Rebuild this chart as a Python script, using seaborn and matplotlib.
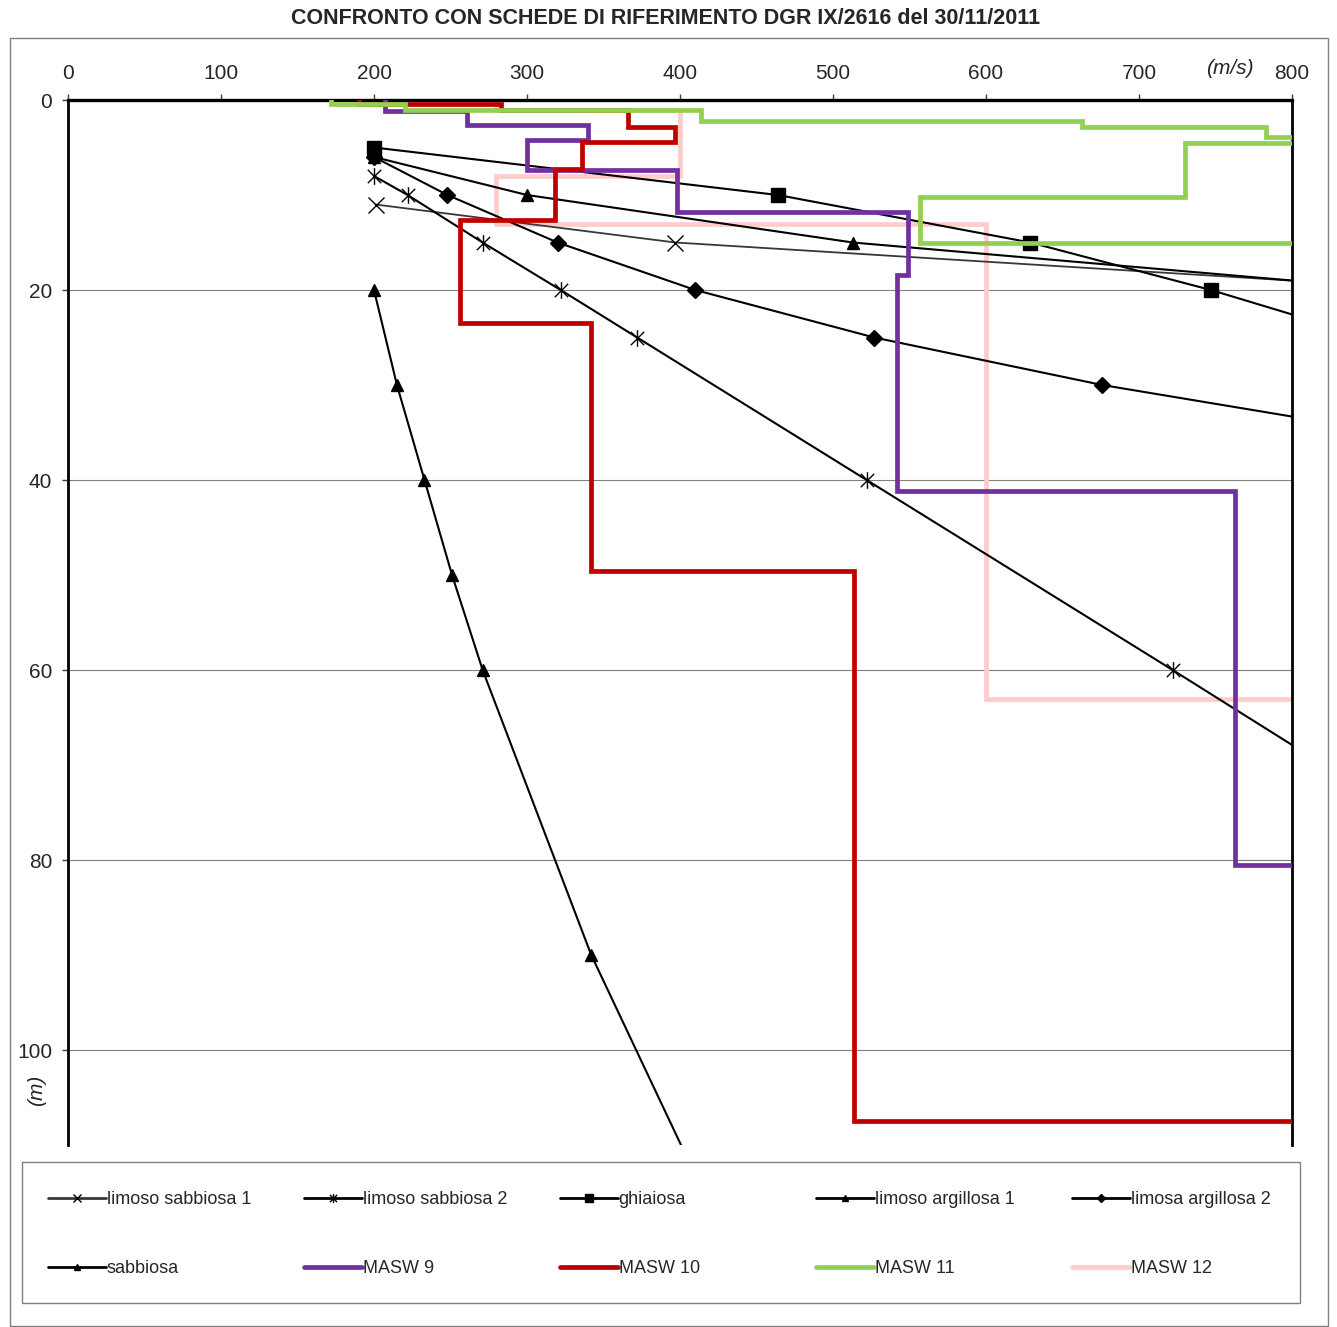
import numpy as np
import pandas as pd
import matplotlib
matplotlib.use("Agg")
import matplotlib.pyplot as plt
import seaborn as sns
from matplotlib.path import Path
from matplotlib.patches import Rectangle

# reference curves: Vs (m/s) and depth (m)
ls1_vs = [201, 397, 1000]
ls1_z = [11, 15, 21]
ls2_vs = [200, 222, 271, 322, 372, 522, 722, 900]
ls2_z = [8, 10, 15, 20, 25, 40, 60, 78]
ghi_vs = [200, 464, 629, 747, 850]
ghi_z = [5, 10, 15, 20, 25]
la1_vs = [200, 300, 513, 900]
la1_z = [6, 10, 15, 20.4]
la2_vs = [200, 248, 320, 410, 527, 676, 900]
la2_z = [6, 10, 15, 20, 25, 30, 36]
sab_vs = [200, 215, 233, 251, 271, 342, 430]
sab_z = [20, 30, 40, 50, 60, 90, 120]

# MASW layered profiles: layer velocity and layer top depth
masw9_vs = [207, 261, 340, 300, 398, 549, 542, 763, 850]
masw9_top = [0, 1.2, 2.65, 4.2, 7.4, 11.8, 18.4, 41.2, 80.5]
masw10_vs = [190, 283, 366, 397, 336, 318, 256, 342, 514, 900]
masw10_top = [0, 0.38, 1.1, 2.85, 4.4, 7.3, 12.6, 23.5, 49.6, 107.5]
masw11_vs = [172, 220, 414, 663, 783, 850, 730, 557, 850]
masw11_top = [0, 0.38, 1.1, 2.2, 2.8, 3.86, 4.56, 10.2, 15.1]
masw12_vs = [280, 400, 280, 600, 900]
masw12_top = [0, 1.05, 8.0, 13.0, 63.0]
bottom_depth = 120

x_ticks = [0, 100, 200, 300, 400, 500, 600, 700, 800]
y_ticks = [0, 20, 40, 60, 80, 100]


def step_profile(vs, tops, bottom):
    x, y = [], []
    bottoms = tops[1:] + [bottom]
    for v, t, b in zip(vs, tops, bottoms):
        x += [v, v]
        y += [t, b]
    return pd.DataFrame({"vs": x, "z": y})


# asterisk marker (x with a vertical bar)
asterisk = Path([(0, -1), (0, 1), (-0.8, -0.8), (0.8, 0.8), (-0.8, 0.8), (0.8, -0.8)],
                [Path.MOVETO, Path.LINETO, Path.MOVETO, Path.LINETO, Path.MOVETO, Path.LINETO])

sns.set_style("white")
plt.rcParams['font.family'] = ['Liberation Sans', 'DejaVu Sans']

fig = plt.figure(figsize=(13.37, 13.27), dpi=100)
ax = fig.add_axes([68 / 1337, 1 - 1145 / 1327, 1224 / 1337, 1045 / 1327])

curves = [
    ("limoso sabbiosa 1", ls1_vs, ls1_z, "#383838", 1.3, "x", 11),
    ("limoso sabbiosa 2", ls2_vs, ls2_z, "black", 1.5, asterisk, 12),
    ("ghiaiosa", ghi_vs, ghi_z, "black", 1.5, "s", 9.5),
    ("limoso argillosa 1", la1_vs, la1_z, "black", 1.5, "^", 9),
    ("limosa argillosa 2", la2_vs, la2_z, "black", 1.5, "D", 8),
    ("sabbiosa", sab_vs, sab_z, "black", 1.5, "^", 9),
]
for name, vs, z, col, lw, mk, ms in curves:
    df = pd.DataFrame({"vs": vs, "z": z})
    sns.lineplot(data=df, x="vs", y="z", ax=ax, sort=False, estimator=None,
                 color=col, lw=lw, marker=mk, markersize=ms,
                 markeredgecolor="black", markerfacecolor="black",
                 markeredgewidth=1.0, label=name, zorder=3)

profiles = [
    ("MASW 9", masw9_vs, masw9_top, "#7030A0", 4),
    ("MASW 10", masw10_vs, masw10_top, "#C00000", 5),
    ("MASW 11", masw11_vs, masw11_top, "#92D050", 6),
    ("MASW 12", masw12_vs, masw12_top, "#FFCCCC", 2),
]
for name, vs, tops, col, zo in profiles:
    df = step_profile(vs, tops, bottom_depth)
    sns.lineplot(data=df, x="vs", y="z", ax=ax, sort=False, estimator=None,
                 color=col, lw=3.4, label=name, zorder=zo,
                 solid_joinstyle="miter", solid_capstyle="round")

ax.set_xlim(0, 800)
ax.set_ylim(110, 0)
ax.set_xticks(x_ticks)
ax.set_yticks(y_ticks)
ax.xaxis.tick_top()
ax.tick_params(axis="x", top=True, bottom=False, length=4, width=1, pad=8,
               labelsize=15, color="#404040")
ax.tick_params(axis="y", left=True, length=4.5, width=1, pad=7,
               labelsize=15, color="#404040")
ax.set_xlabel("")
ax.set_ylabel("")
ax.yaxis.grid(True, color="#808080", lw=0.8)
ax.xaxis.grid(False)
for side in ["left", "top", "right"]:
    ax.spines[side].set_color("black")
    ax.spines[side].set_linewidth(2)
ax.spines["top"].set_linewidth(2.4)
ax.spines["bottom"].set_visible(False)

fig.text(1230 / 1337, 1 - 68 / 1327, "(m/s)", fontsize=15, style="italic",
         ha="center", va="center")
fig.text(37 / 1337, 1 - 1090 / 1327, "(m)", fontsize=15, style="italic",
         rotation=90, ha="center", va="center")
fig.text(666 / 1337, 1 - 19 / 1327,
         "CONFRONTO CON SCHEDE DI RIFERIMENTO DGR IX/2616 del 30/11/2011",
         fontsize=15.5, fontweight="bold", ha="center", va="center")

# outer chart frame and legend frame
fig.patches.append(Rectangle((10 / 1337, 1 - 1326 / 1327), 1318 / 1337, 1288 / 1327,
                             transform=fig.transFigure, fill=False,
                             edgecolor="#808080", lw=1))
fig.patches.append(Rectangle((22 / 1337, 1 - 1303 / 1327), 1278 / 1337, 141 / 1327,
                             transform=fig.transFigure, fill=False,
                             edgecolor="#808080", lw=1))

handles, labels = ax.get_legend_handles_labels()
ax.get_legend().remove()
col_x = [48, 304, 560, 816, 1072]
for i, x0 in enumerate(col_x):
    leg = fig.legend([handles[i], handles[i + 5]], [labels[i], labels[i + 5]],
                     loc="upper left", bbox_to_anchor=(x0 / 1337, 1 - 1191 / 1327),
                     frameon=False, borderpad=0, borderaxespad=0,
                     fontsize=13, handlelength=3.2, handletextpad=0.05,
                     labelspacing=2.9, markerscale=0.55)
    for line in leg.get_lines()[:1] + (leg.get_lines()[1:] if i == 0 else []):
        line.set_linewidth(2)

fig.savefig("out.png", dpi=100)
